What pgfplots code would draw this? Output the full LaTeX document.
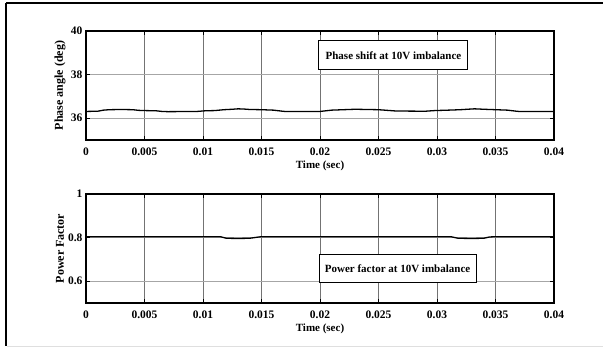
\documentclass[border=0pt]{standalone}
\usepackage{fontspec}
\setmainfont{Liberation Serif}
\usepackage{pgfplots}
\pgfplotsset{compat=1.18}
\begin{document}
\begin{tikzpicture}[font=\fontsize{11}{13}\selectfont\bfseries]
\useasboundingbox (0,0) rectangle (603pt,349pt);
\fill[white] (0,0) rectangle (603pt,349pt);
\draw[black, line width=2pt] (6pt,346pt) -- (603pt,346pt);
\draw[black, line width=2.2pt] (6pt,346pt) -- (6pt,3pt);
\draw[gray!25, line width=1pt] (7pt,2.5pt) -- (603pt,2.5pt);
\pgfplotsset{
  myaxis/.style={
    scale only axis, width=468pt, height=109pt, anchor=south west,
    xmin=0, xmax=0.04,
    scaled x ticks=false,
    xtick={0,0.005,0.01,0.015,0.02,0.025,0.03,0.035,0.04},
    xticklabels={0,0.005,0.01,0.015,0.02,0.025,0.03,0.035,0.04},
    grid=major,
    x grid style={black!55, line width=0.5pt},
    y grid style={black!35, line width=0.8pt},
    axis line style={black, line width=1.3pt},
    tick style={black, line width=0.8pt},
    tick align=inside, major tick length=4pt,
    xtick pos=both, ytick pos=both,
    tick label style={font=\fontsize{11.5}{13}\selectfont\bfseries},
    xticklabel style={yshift=-4pt},
    label style={font=\fontsize{11}{13}\selectfont\bfseries},
    xlabel={Time (sec)},
    /pgf/number format/assume math mode=true,
    xlabel style={yshift=1pt},
    ylabel style={at={(axis description cs:-0.0556,0.5)}, anchor=center,
      font=\fontsize{12}{14}\selectfont\bfseries},
  }
}
\begin{axis}[myaxis, at={(86pt,209pt)},
  ymin=35, ymax=40, ytick={36,38,40}, yticklabels={36,38,40},
  ylabel={Phase angle (deg)}]
\addplot[black, line width=1.3pt] coordinates {
(0,36.31) (0.001,36.32) (0.0015,36.37) (0.002,36.39) (0.003,36.40) (0.004,36.39)
(0.0045,36.36) (0.005,36.35) (0.006,36.34) (0.0065,36.31) (0.007,36.30) (0.0095,36.31)
(0.0102,36.34) (0.011,36.35) (0.0118,36.39) (0.0125,36.41) (0.013,36.43) (0.0135,36.42)
(0.014,36.40) (0.015,36.39) (0.016,36.37) (0.0168,36.32) (0.017,36.31) (0.02,36.31)
(0.0205,36.34) (0.021,36.37) (0.022,36.39) (0.023,36.41) (0.024,36.40) (0.025,36.39)
(0.026,36.35) (0.0265,36.33) (0.029,36.32) (0.0298,36.35) (0.031,36.37) (0.032,36.39)
(0.0332,36.43) (0.034,36.41) (0.035,36.39) (0.036,36.37) (0.0368,36.32) (0.037,36.31)
(0.04,36.31)};
\node[draw=black, line width=1pt, fill=white, minimum width=149pt, minimum height=29pt, inner sep=2pt,
  font=\fontsize{11}{13}\selectfont\bfseries] at (axis cs:0.02628,38.88) {Phase shift at 10V imbalance};
\end{axis}
\begin{axis}[myaxis, at={(86pt,46pt)},
  ymin=0.5, ymax=1, ytick={0.6,0.8,1}, yticklabels={0.6,0.8,1},
  ylabel={Power Factor}]
\addplot[black, line width=1.3pt] coordinates {
(0,0.804) (0.0115,0.804) (0.012,0.797) (0.013,0.796) (0.014,0.797) (0.0148,0.803)
(0.015,0.804) (0.0312,0.804) (0.0318,0.797) (0.033,0.796) (0.034,0.797) (0.0345,0.803)
(0.035,0.804) (0.04,0.804)};
\node[draw=black, line width=1pt, fill=white, minimum width=157pt, minimum height=28pt, inner sep=2pt,
  font=\fontsize{11}{13}\selectfont\bfseries] at (axis cs:0.02663,0.656) {Power factor at 10V imbalance};
\end{axis}
\end{tikzpicture}
\end{document}
